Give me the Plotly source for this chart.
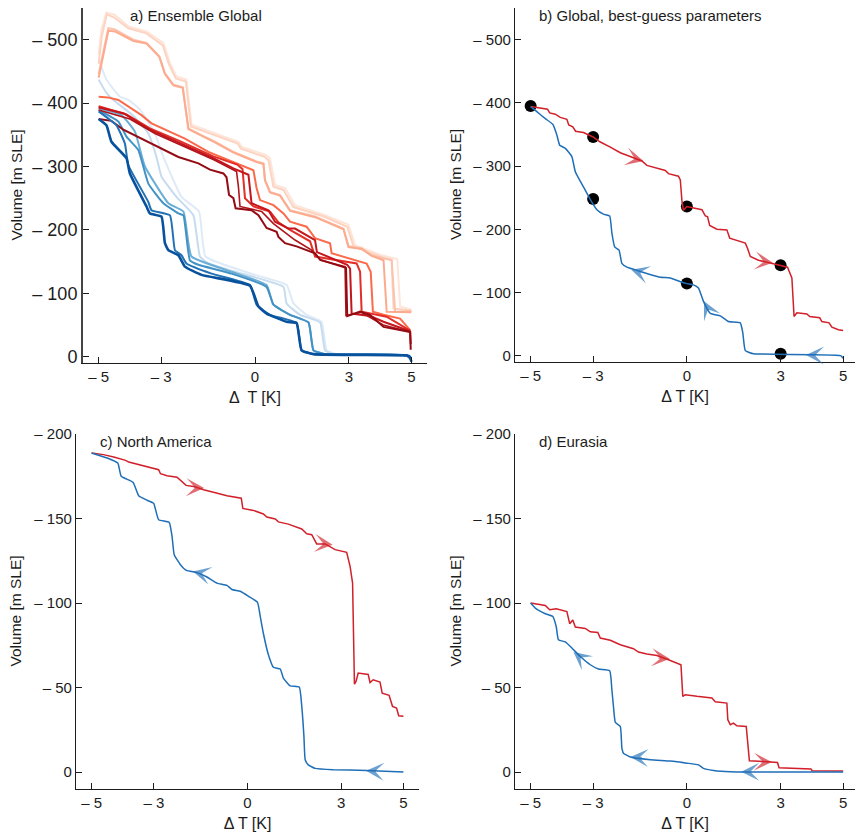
"""Hysteresis of ice volume against temperature anomaly, four panels."""
import plotly.graph_objects as go

WIDTH = 855
HEIGHT = 834
FONT = "Liberation Sans"
INK = "#1c1c1c"
RED = "#d2202a"
BLUE = "#1f6fb8"

# panel a, warming branches
a_r1_x = [-5, -4.91, -4.75, -4.48, -4.05, -3.47, -2.93, -2.72, -2.51, -2.19, -2.03, -1.33, -0.53, -0.43, 0.37, 0.48, 0.64, 0.96, 1.28, 2.24, 2.99, 3.2, 4.05, 4.55, 4.64, 5]
a_r1_y = [476, 516, 543, 539, 521, 513, 495, 463, 442, 437, 366, 353, 339, 331, 318, 313, 271, 266, 239, 223, 208, 176, 160, 154, 79, 74]
a_r2_x = [-5, -4.9, -4.74, -4.5, -4.05, -3.47, -2.95, -2.74, -2.53, -2.21, -2.05, -1.35, -0.55, -0.45, 0.32, 0.43, 0.59, 0.91, 1.23, 2.2, 2.95, 3.15, 4, 4.37, 4.43, 5]
a_r2_y = [462, 505, 540, 535, 518, 510, 491, 460, 439, 434, 363, 350, 336, 328, 315, 310, 268, 263, 236, 221, 205, 174, 158, 153, 76, 73]
a_r3_x = [-5, -4.85, -4.69, -4.48, -3.89, -3.47, -3.06, -2.88, -2.61, -2.31, -2.13, -1.65, -1.28, -0.69, 0.05, 0.27, 0.32, 0.48, 0.8, 1.12, 1.92, 2.83, 2.99, 3.41, 3.73, 4.37, 4.48, 5]
a_r3_y = [446, 479, 518, 516, 500, 495, 474, 447, 429, 425, 360, 348, 339, 323, 308, 305, 279, 260, 255, 231, 221, 202, 174, 171, 160, 152, 71, 72]
a_r4_x = [-5, -4.85, -4.69, -4.48, -3.89, -3.47, -3.06, -2.88, -2.61, -2.31, -2.13, -1.65, -1.28, -0.69, 0.05, 0.27, 0.32, 0.48, 0.8, 1.12, 1.92, 2.83, 2.99, 3.41, 3.73, 4.11, 4.21, 5]
a_r4_y = [440, 474, 514, 513, 498, 494, 473, 446, 428, 424, 359, 347, 338, 322, 307, 304, 278, 259, 254, 230, 220, 201, 173, 170, 159, 152, 71, 70]
a_r5_x = [-5, -4.71, -4.37, -3.63, -3.31, -2.24, -1.49, -0.43, -0.05, 0.05, 0.16, 0.59, 0.91, 1.12, 1.65, 1.92, 2.4, 2.45, 3.57, 3.7, 3.77, 4.11, 4.64, 4.96]
a_r5_y = [410, 409, 405, 381, 368, 344, 323, 302, 294, 266, 247, 239, 226, 213, 205, 187, 179, 163, 147, 134, 71, 66, 60, 42]
a_r6_x = [-5, -4.11, -3.36, -2.4, -1.33, -0.57, -0.4, -0.32, -0.05, 0.48, 0.75, 1.12, 1.76, 1.92, 3.25, 3.36, 3.41, 4.21, 4.96]
a_r6_y = [395, 382, 360, 340, 316, 303, 296, 250, 237, 229, 212, 200, 182, 158, 147, 134, 71, 63, 41]
a_r7_x = [-5, -4.21, -3.36, -2.4, -1.33, -0.69, -0.21, -0.11, 0.43, 0.64, 1.07, 1.28, 1.92, 1.98, 2.95, 3.04, 3.09, 3.68, 4.11, 4.96, 4.98]
a_r7_y = [393, 384, 358, 337, 313, 297, 287, 242, 231, 213, 202, 202, 184, 165, 145, 139, 68, 64, 55, 40, 20]
a_r8_x = [-5, -4, -3.2, -2.3, -1.3, -0.59, -0.53, -0.48, 0.21, 0.59, 1.17, 1.28, 1.81, 2.1, 2.88, 2.91, 3.4, 4.1, 4.96]
a_r8_y = [389, 375, 352, 332, 310, 292, 268, 237, 229, 210, 189, 184, 168, 152, 142, 65, 70, 50, 39]
a_r9_x = [-5, -4.59, -4.21, -3.63, -2.99, -2.45, -1.81, -1.44, -1.01, -0.91, -0.83, -0.69, -0.62, -0.11, 0.11, 0.37, 0.69, 0.75, 0.96, 1.33, 1.92, 2.08, 2.91, 2.95, 3.36, 3.68, 4.11, 4.96, 4.98]
a_r9_y = [375, 372, 358, 344, 329, 315, 305, 295, 289, 283, 255, 250, 234, 231, 223, 203, 197, 189, 179, 174, 163, 153, 140, 64, 71, 66, 47, 39, 11]

# panel a, cooling branches
a_b1_x = [5, 4.85, 2.61, 2.29, 2.13, 1.65, 1.23, 1.01, 0, -1.58, -1.79, -2.35, -2.93, -3.2, -3.68, -4.05, -4.32, -4.75, -5]
a_b1_y = [-5, 2, 4, 10, 55, 66, 84, 113, 129, 158, 229, 252, 315, 352, 390, 405, 410, 437, 470]
a_b2_x = [5, 4.85, 2.51, 2.24, 2.08, 1.44, 1.01, 0.91, -0.64, -1.49, -1.76, -1.97, -2.51, -2.99, -3.15, -3.41, -3.89, -4.53, -4.75, -5]
a_b2_y = [-5, 2, 4, 10, 54, 66, 84, 110, 134, 147, 158, 223, 252, 284, 315, 352, 380, 405, 416, 437]
a_b3_x = [5, 4.85, 2.24, 1.87, 1.71, 1.12, 0.59, 0.37, -0.75, -2.03, -2.29, -2.77, -3.52, -3.84, -4.27, -5]
a_b3_y = [-5, 2, 4, 10, 54, 66, 82, 113, 134, 158, 229, 242, 300, 355, 381, 392]
a_b4_x = [5, 4.85, 2.24, 1.87, 1.71, 1.12, 0.59, 0.37, -0.75, -1.81, -2.08, -2.29, -2.45, -2.93, -3.41, -3.73, -4.11, -4.37, -5]
a_b4_y = [-5, 2, 4, 10, 54, 66, 82, 110, 131, 145, 152, 223, 226, 242, 273, 326, 347, 371, 389]
a_b5_x = [5, 4.85, 1.87, 1.49, 1.33, 0.48, 0.05, -0.16, -1.39, -2.19, -2.35, -2.56, -2.72, -3.31, -3.41, -4.05, -4.16, -4.43, -5]
a_b5_y = [-5, 2, 4, 10, 53, 66, 82, 113, 131, 147, 160, 168, 223, 231, 244, 302, 336, 365, 387]
a_b6_x = [5, 4.95, 4.85, 1.87, 1.49, 1.33, 1.01, 0.37, 0.11, -0.16, -1.71, -2.24, -2.45, -2.77, -2.88, -2.99, -3.36, -3.47, -4, -4.11, -4.59, -4.75, -5]
a_b6_y = [-8, 0, 2, 4, 10, 53, 55, 68, 79, 112, 129, 142, 160, 168, 179, 221, 226, 237, 289, 313, 339, 365, 375]

# panel b
b_red_x = [-5, -4.69, -4.46, -4.39, -4.21, -4.05, -3.84, -3.78, -3.65, -3.56, -3.31, -3, -2.77, -2.45, -2.13, -1.92, -1.6, -1.44, -1.28, -0.96, -0.69, -0.59, -0.27, -0.21, -0.16, -0.11, 0, 0.48, 0.59, 0.66, 0.73, 0.96, 1.28, 1.37, 1.87, 1.94, 2.03, 2.29, 2.88, 3.22, 3.36, 3.39, 3.43, 3.52, 3.84, 3.93, 4.25, 4.32, 4.55, 4.64, 4.85, 5]
b_red_y = [394, 392, 390, 384, 382, 377, 374, 365, 362, 355, 353, 346, 338, 330, 321, 317, 311, 308, 301, 297, 293, 288, 284, 278, 246, 230, 236, 231, 221, 220, 206, 200, 199, 186, 178, 170, 157, 151, 144, 140, 123, 99, 62, 68, 66, 62, 60, 54, 52, 45, 41, 40]
b_blue_x = [5, 4.92, 2.45, 2.13, 1.87, 1.79, 1.71, 1.33, 1.07, 0.75, 0.53, 0.37, 0.21, 0, -0.21, -0.53, -0.85, -1.28, -1.6, -1.92, -2.08, -2.17, -2.31, -2.4, -2.47, -2.67, -2.88, -3.09, -3.31, -3.57, -3.68, -3.89, -4.07, -4.16, -4.29, -4.53, -4.8, -5]
b_blue_y = [-4, 0, 2.6, 3, 8, 36, 52, 54, 63, 67, 86, 107, 112, 114, 117, 123, 124, 130, 135, 140, 146, 167, 172, 194, 221, 224, 231, 247, 267, 291, 315, 328, 333, 349, 366, 375, 386, 394]
b_dot_x = [-5, -3, -3, 0, 0, 3, 3]
b_dot_y = [395, 346, 248, 236, 114, 143, 3]

# panel c
c_red_x = [-5, -4.62, -4.29, -3.91, -3.81, -3.43, -3.11, -2.85, -2.79, -2.58, -2.26, -2.1, -1.97, -1.73, -1.41, -1.09, -0.66, -0.2, -0.15, 0.19, 0.51, 0.62, 0.89, 0.99, 1.31, 1.74, 1.9, 2.06, 2.22, 2.49, 2.81, 3.18, 3.29, 3.37, 3.39, 3.41, 3.43, 3.48, 3.55, 3.87, 3.93, 4.03, 4.25, 4.32, 4.54, 4.65, 4.78, 4.85, 5]
c_red_y = [188.8, 187.8, 186.4, 184.4, 183.4, 181.7, 180.5, 178.9, 176.5, 175.3, 174.4, 172, 169.6, 169, 167, 165.5, 163.5, 162, 156, 154.8, 152.7, 150.9, 149.7, 148, 146.7, 143.8, 141, 140.4, 135, 135, 131.6, 130, 121.7, 111.8, 90, 66.5, 52, 53.6, 58.6, 57.8, 53, 54.6, 53.3, 46.7, 45.4, 38.9, 37.9, 33.3, 33]
c_blue_x = [5, 3.82, 2.75, 2.17, 1.95, 1.85, 1.81, 1.74, 1.66, 1.37, 1.15, 1.05, 0.83, 0.67, 0.51, 0.41, 0.32, 0.03, -0.23, -0.5, -0.66, -0.98, -1.3, -1.62, -1.96, -2.15, -2.35, -2.42, -2.51, -2.85, -3.01, -3.22, -3.49, -3.67, -4.05, -4.16, -4.5, -5]
c_blue_y = [0, 1, 1.4, 2.2, 4.3, 7.3, 21, 39, 50.3, 51, 55.6, 61, 62, 69.4, 82, 92, 100.4, 104, 107, 108, 110.5, 111.8, 115.4, 118, 119.3, 122.7, 128.6, 139.5, 147.7, 149.3, 159, 160.8, 163.5, 171.4, 175, 182.8, 185.8, 188.8]

# panel d
d_red_x = [-5, -4.53, -4.39, -4.18, -3.84, -3.75, -3.65, -3.57, -3.25, -3.09, -2.85, -2.77, -2.45, -2.13, -1.71, -1.55, -1.28, -0.96, -0.59, -0.19, -0.13, -0.05, 0.32, 0.8, 0.91, 1.28, 1.31, 1.39, 1.49, 1.6, 1.9, 2, 2.45, 2.9, 2.95, 3.97, 4.01, 5]
d_red_y = [100, 98.6, 96, 96.6, 95, 87.8, 90, 85.8, 85, 83, 82.6, 79.3, 78, 75.3, 73, 71, 69.8, 69, 66.5, 63.5, 44.8, 45.8, 44.8, 43.8, 41.6, 40.8, 31, 28, 29, 27.4, 27, 6.7, 6.3, 5.7, 2.6, 1.8, 0.8, 0.6]
d_blue_x = [5, 2.45, 1.39, 0.85, 0.53, 0.37, 0, -0.53, -1.17, -1.81, -2.03, -2.08, -2.13, -2.29, -2.35, -2.4, -2.47, -2.83, -3.09, -3.41, -3.68, -3.89, -4.11, -4.18, -4.29, -4.53, -4.85, -5]
d_blue_y = [0, 0, 0.2, 1, 2.2, 4.3, 5.3, 6.5, 7.3, 8.9, 11.2, 14.2, 27, 29.4, 38.9, 48.7, 60, 61, 63.5, 68.4, 73.4, 77, 78.3, 86, 92, 93.7, 97, 100]

# direction arrows: tip and tail, in data units
b_arrow_tip_x = [-1.39, 2.75, -3.6, -1.78, 0.55, 3.81]
b_arrow_tip_y = [308, 147, 300, 136, 86, 1]
b_arrow_tail_x = [-1.79, 2.27, -3.49, -1.38, 0.74, 4.2]
b_arrow_tail_y = [313, 150, 282, 130, 67, 0.5]
b_arrow_colors = [RED, RED, BLUE, BLUE, BLUE, BLUE]
c_arrow_tip_x = [-1.39, 2.73, -1.75, 0.53, 3.8]
c_arrow_tip_y = [168, 134.5, 118.7, 81.3, 0.8]
c_arrow_tail_x = [-1.81, 2.29, -1.37, 0.61, 4.2]
c_arrow_tail_y = [168.4, 135.3, 117, 73.6, 0.4]
c_arrow_colors = [RED, RED, BLUE, BLUE, BLUE]
d_arrow_tip_x = [-0.55, 2.72, -3.63, -1.81, 1.74]
d_arrow_tip_y = [67, 5.9, 71, 8.9, 0.2]
d_arrow_tail_x = [-1.0, 2.27, -3.31, -1.35, 2.15]
d_arrow_tail_y = [67.7, 6.1, 66.3, 8.5, 0.2]
d_arrow_colors = [RED, RED, BLUE, BLUE, BLUE]

x_ticks = [-5, -3, 0, 3, 5]
x_labels = ["\u2013 5", "\u2013 3", "0", "3", "5"]
y_ticks_global = [0, 100, 200, 300, 400, 500]
y_labels_global = ["0", "\u2013 100", "\u2013 200", "\u2013 300", "\u2013 400", "\u2013 500"]
y_ticks_region = [0, 50, 100, 150, 200]
y_labels_region = ["0", "\u2013 50", "\u2013 100", "\u2013 150", "\u2013 200"]


def add_line(fig, x, y, color, width, axis="", smooth=False):
    line = dict(color=color, width=width)
    if smooth:
        line.update(shape="spline", smoothing=0.4)
    fig.add_trace(go.Scatter(x=x, y=y, mode="lines", xaxis="x" + axis, yaxis="y" + axis,
                             line=line, showlegend=False, hoverinfo="skip"))


def add_arrows(fig, tip_x, tip_y, tail_x, tail_y, colors, axis):
    for i in range(len(tip_x)):
        fig.add_annotation(x=tip_x[i], y=tip_y[i], ax=tail_x[i], ay=tail_y[i],
                           xref="x" + axis, yref="y" + axis, axref="x" + axis, ayref="y" + axis,
                           showarrow=True, arrowhead=3, arrowsize=2.0, arrowwidth=1.5,
                           arrowcolor=colors[i], opacity=0.65)


def add_title(fig, text, x, axis):
    fig.add_annotation(x=x, y=1, xref="x" + axis, yref="y" + axis + " domain", text=text, showarrow=False,
                       xanchor="left", yanchor="top", yshift=3, font=dict(family=FONT, size=15, color=INK))


def add_y_title(fig, x_pixel, axis):
    # axis titles do not honour a small standoff without automargin
    fig.add_annotation(x=x_pixel / WIDTH, y=0.5, xref="paper", yref="y" + axis + " domain", text="Volume [m SLE]",
                       textangle=-90, showarrow=False, xanchor="center", yanchor="middle",
                       font=dict(family=FONT, size=15.5, color=INK))


def style_axes(fig, axis, x_box, y_box, x_range, y_range, y_ticks, y_labels, y_size, spine, x_title):
    """Sets one panel's axes; the boxes are pixel extents on the page."""
    x_key = "xaxis" + axis
    y_key = "yaxis" + axis
    fig.update_layout({
        x_key: dict(domain=[x_box[0] / WIDTH, x_box[1] / WIDTH], range=x_range, anchor="y" + axis,
                    automargin=False, tickvals=x_ticks, ticktext=x_labels, ticks="inside", ticklen=6, tickwidth=1,
                    tickcolor=INK, showgrid=False, zeroline=False, showline=True, linecolor=INK, linewidth=1.2,
                    tickfont=dict(family=FONT, size=15, color=INK),
                    title=dict(text=x_title, standoff=7, font=dict(family=FONT, size=16, color=INK))),
        y_key: dict(domain=[1 - y_box[1] / HEIGHT, 1 - y_box[0] / HEIGHT], range=y_range, anchor="x" + axis,
                    automargin=False, tickvals=y_ticks, ticktext=y_labels, ticks="inside", ticklen=6, tickwidth=1,
                    tickcolor=INK, showgrid=False, zeroline=False, showline=True, linecolor=spine[0], linewidth=spine[1],
                    tickfont=dict(family=FONT, size=y_size, color=INK)),
    })


fig = go.Figure()

# panel a, lightest first so the dark runs stay on top
add_line(fig, a_r1_x, a_r1_y, "#fee5d9", 2)
add_line(fig, a_b1_x, a_b1_y, "#deebf7", 2, smooth=True)
add_line(fig, a_r2_x, a_r2_y, "#fdd3c1", 2)
add_line(fig, a_r3_x, a_r3_y, "#fcc2ab", 2)
add_line(fig, a_r4_x, a_r4_y, "#fcab8f", 2)
add_line(fig, a_b2_x, a_b2_y, "#c6dbef", 2, smooth=True)
add_line(fig, a_b3_x, a_b3_y, "#6baed6", 2, smooth=True)
add_line(fig, a_b4_x, a_b4_y, "#4292c6", 2, smooth=True)
add_line(fig, a_r5_x, a_r5_y, "#fb6a4a", 2)
add_line(fig, a_r6_x, a_r6_y, "#e32f27", 2)
add_line(fig, a_r7_x, a_r7_y, "#c4161c", 2)
add_line(fig, a_r8_x, a_r8_y, "#b0131a", 1.6)
add_line(fig, a_r9_x, a_r9_y, "#940b13", 2)
add_line(fig, a_b5_x, a_b5_y, "#2171b5", 2, smooth=True)
add_line(fig, a_b6_x, a_b6_y, "#08519c", 2.6, smooth=True)

# panel b
fig.add_trace(go.Scatter(x=b_dot_x, y=b_dot_y, mode="markers", xaxis="x2", yaxis="y2",
                         marker=dict(color="black", size=12), showlegend=False, hoverinfo="skip"))
add_line(fig, b_red_x, b_red_y, RED, 1.5, "2")
add_line(fig, b_blue_x, b_blue_y, BLUE, 1.5, "2", smooth=True)

# panels c and d
add_line(fig, c_red_x, c_red_y, RED, 1.5, "3")
add_line(fig, c_blue_x, c_blue_y, BLUE, 1.5, "3", smooth=True)
add_line(fig, d_red_x, d_red_y, RED, 1.5, "4")
add_line(fig, d_blue_x, d_blue_y, BLUE, 1.5, "4", smooth=True)

style_axes(fig, "", (83, 427), (8, 363), [-5.5, 5.5], [-10, 550], y_ticks_global, y_labels_global, 18, ("#444444", 2), "\u0394\u2009 T [K]")
style_axes(fig, "2", (515, 855), (8, 362), [-5.5, 5.38], [-10, 550], y_ticks_global, y_labels_global, 15, (INK, 1.2), "\u0394 T [K]")
style_axes(fig, "3", (76, 419), (434, 789), [-5.5, 5.5], [-10, 200], y_ticks_region, y_labels_region, 15, (INK, 1.2), "\u0394 T [K]")
style_axes(fig, "4", (515, 855), (434, 789), [-5.5, 5.38], [-10, 200], y_ticks_region, y_labels_region, 15, (INK, 1.2), "\u0394 T [K]")

add_title(fig, "a) Ensemble Global", -4.06, "")
add_title(fig, "b) Global, best-guess parameters", -4.79, "2")
add_title(fig, "c) North America", -4.8, "3")
add_title(fig, "d) Eurasia", -4.79, "4")

add_y_title(fig, 16, "")
add_y_title(fig, 455, "2")
add_y_title(fig, 15, "3")
add_y_title(fig, 455, "4")

add_arrows(fig, b_arrow_tip_x, b_arrow_tip_y, b_arrow_tail_x, b_arrow_tail_y, b_arrow_colors, "2")
add_arrows(fig, c_arrow_tip_x, c_arrow_tip_y, c_arrow_tail_x, c_arrow_tail_y, c_arrow_colors, "3")
add_arrows(fig, d_arrow_tip_x, d_arrow_tip_y, d_arrow_tail_x, d_arrow_tail_y, d_arrow_colors, "4")

fig.update_layout(width=WIDTH, height=HEIGHT, margin=dict(l=0, r=0, t=0, b=0),
                  plot_bgcolor="white", paper_bgcolor="white", showlegend=False)

fig.write_html("out.html", config={"displayModeBar": False}, post_script="document.body.style.margin = '0';")
